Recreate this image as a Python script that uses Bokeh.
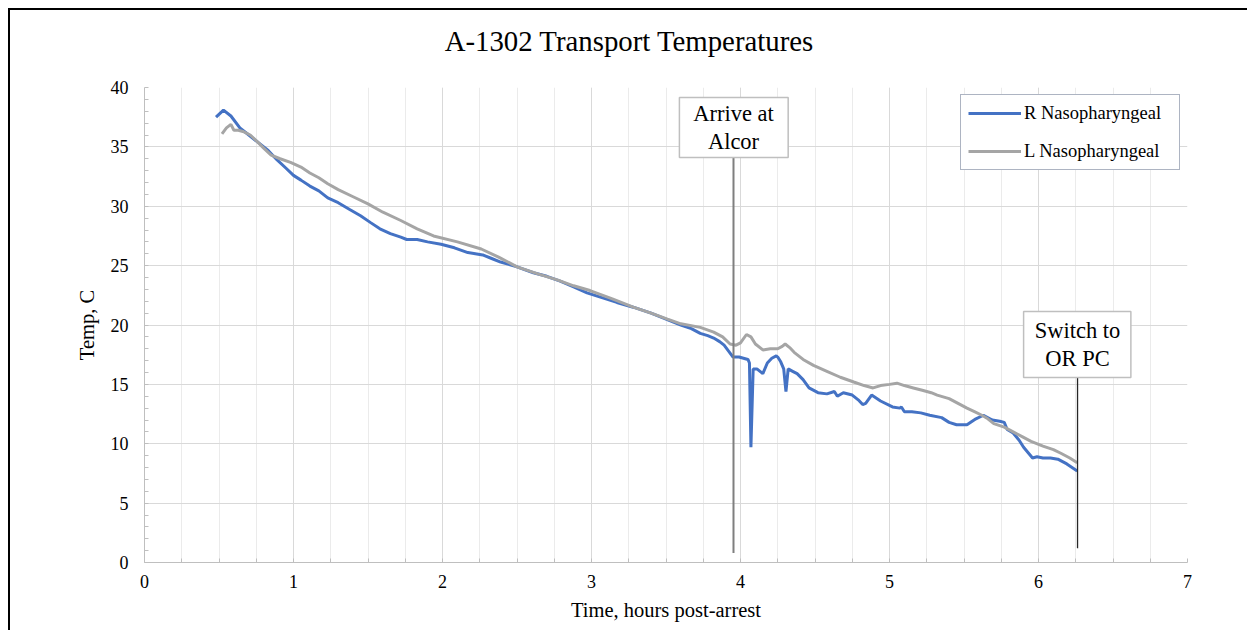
from bokeh.plotting import figure
from bokeh.models import SingleIntervalTicker, FixedTicker, Range1d, ColumnDataSource, LinearAxis
from bokeh.core.properties import value
from bokeh.embed import file_html
from bokeh.resources import INLINE

# ---- data ----
r_x = [0.48, 0.53, 0.58, 0.64, 0.70, 0.76, 0.83, 0.89, 0.95, 1.00, 1.05, 1.11, 1.17, 1.23, 1.30,
       1.38, 1.45, 1.52, 1.58, 1.65, 1.72, 1.76, 1.83, 1.90, 1.99, 2.08, 2.17, 2.27, 2.33, 2.39,
       2.50, 2.61, 2.70, 2.79, 2.88, 2.97, 3.07, 3.17, 3.28, 3.40, 3.50, 3.60, 3.67, 3.73, 3.78,
       3.82, 3.86, 3.89, 3.92, 3.95, 3.99, 4.02, 4.05, 4.06, 4.07, 4.085, 4.11, 4.15, 4.18, 4.21,
       4.24, 4.25, 4.27, 4.29, 4.305, 4.32, 4.35, 4.38, 4.42, 4.46, 4.52, 4.58, 4.63, 4.65, 4.69,
       4.75, 4.79, 4.82, 4.84, 4.88, 4.94, 5.02, 5.07, 5.08, 5.10, 5.15, 5.21, 5.27, 5.35, 5.40,
       5.45, 5.52, 5.58, 5.63, 5.69, 5.74, 5.77, 5.79, 5.83, 5.87, 5.90, 5.96, 5.99, 6.03, 6.08,
       6.13, 6.19, 6.26]
r_y = [37.5, 38.1, 37.6, 36.6, 36.0, 35.4, 34.7, 33.9, 33.2, 32.6, 32.2, 31.7, 31.3, 30.7, 30.3,
       29.7, 29.2, 28.6, 28.1, 27.7, 27.4, 27.2, 27.2, 27.0, 26.8, 26.5, 26.1, 25.9, 25.6, 25.3,
       24.9, 24.4, 24.1, 23.7, 23.2, 22.7, 22.3, 21.9, 21.5, 21.0, 20.5, 20.0, 19.7, 19.3, 19.1,
       18.9, 18.6, 18.3, 17.8, 17.3, 17.3, 17.2, 17.1, 16.8, 9.7, 16.3, 16.3, 15.9, 16.8, 17.2,
       17.4, 17.3, 16.9, 16.3, 14.4, 16.3, 16.1, 15.9, 15.4, 14.7, 14.3, 14.2, 14.4, 14.0, 14.3,
       14.1, 13.7, 13.3, 13.4, 14.1, 13.6, 13.1, 13.0, 13.1, 12.7, 12.7, 12.6, 12.4, 12.2, 11.8,
       11.6, 11.6, 12.1, 12.4, 12.0, 11.9, 11.8, 11.2, 10.9, 10.3, 9.7, 8.8, 8.9, 8.8, 8.8,
       8.7, 8.3, 7.7]

l_x = [0.52, 0.55, 0.58, 0.60, 0.63, 0.66, 0.71, 0.76, 0.80, 0.85, 0.91, 0.98, 1.05, 1.11, 1.17,
       1.23, 1.30, 1.40, 1.50, 1.60, 1.72, 1.83, 1.94, 2.10, 2.26, 2.38, 2.50, 2.64, 2.77, 2.88,
       2.99, 3.14, 3.28, 3.40, 3.51, 3.60, 3.73, 3.82, 3.88, 3.93, 3.97, 4.00, 4.04, 4.07, 4.10,
       4.15, 4.20, 4.25, 4.28, 4.30, 4.33, 4.36, 4.42, 4.49, 4.58, 4.67, 4.76, 4.83, 4.89, 4.94,
       5.00, 5.05, 5.10, 5.16, 5.22, 5.28, 5.32, 5.40, 5.46, 5.52, 5.57, 5.62, 5.66, 5.70, 5.77,
       5.83, 5.89, 5.95, 6.03, 6.10, 6.15, 6.21, 6.26]
l_y = [36.1, 36.6, 36.9, 36.4, 36.4, 36.3, 36.0, 35.4, 34.9, 34.3, 34.0, 33.7, 33.3, 32.8, 32.4,
       31.9, 31.4, 30.8, 30.2, 29.5, 28.8, 28.1, 27.5, 27.0, 26.4, 25.7, 24.9, 24.3, 23.8, 23.3,
       22.9, 22.2, 21.5, 21.0, 20.5, 20.1, 19.8, 19.4, 19.0, 18.4, 18.3, 18.5, 19.2, 19.0, 18.4,
       17.9, 18.0, 18.0, 18.2, 18.4, 18.1, 17.7, 17.1, 16.6, 16.1, 15.6, 15.2, 14.9, 14.7, 14.9,
       15.0, 15.1, 14.9, 14.7, 14.5, 14.3, 14.1, 13.8, 13.4, 13.0, 12.7, 12.4, 12.1, 11.7, 11.4,
       11.0, 10.6, 10.2, 9.8, 9.5, 9.2, 8.8, 8.4]

event_x = [3.953, 6.262]
event_bottom = [0.8, 1.2]
event_labels = ["Arrive at\nAlcor", "Switch to\nOR PC"]
box_left = [3.59, 5.90]
box_right = [4.32, 6.62]
box_top = [39.16, 21.14]
box_bottom = [34.10, 15.58]
line_colors = ["#7F7F7F", "#262626"]
line_widths = [2, 1.3]

TITLE = "A-1302 Transport Temperatures"
TITLE_X = 3.255
SERIF = "Liberation Serif"

p = figure(width=1239, height=622, output_backend="svg", toolbar_location=None,
           x_range=Range1d(0, 7), y_range=Range1d(0, 40),
           min_border_left=134, min_border_right=62, min_border_top=77, min_border_bottom=70)
p.styles = {"margin-left": "8px", "margin-top": "8px",
            "border-top": "2px solid #000000", "border-left": "2px solid #000000"}
p.outline_line_color = None
p.background_fill_color = "white"
p.border_fill_color = "white"

bottom_axis = p.below[0]
left_axis = p.left[0]

# chart title, drawn as the single label of an invisible top axis
title_axis = LinearAxis(ticker=FixedTicker(ticks=[TITLE_X], minor_ticks=[]),
                        major_label_overrides={TITLE_X: TITLE},
                        axis_line_color=None, major_tick_line_color=None,
                        minor_tick_line_color=None, major_label_standoff=25,
                        major_label_text_font=SERIF, major_label_text_font_size="28.8px",
                        major_label_text_color="#000000")
p.add_layout(title_axis, "above")

for ax in (bottom_axis, left_axis):
    ax.axis_line_color = "#BFBFBF"
    ax.major_tick_in = 0
    ax.major_tick_out = 0
    ax.minor_tick_out = 0
    ax.minor_tick_in = 4
    ax.minor_tick_line_color = "#BFBFBF"
    ax.major_label_text_font = SERIF
    ax.major_label_text_font_size = "18px"
    ax.major_label_text_color = "#000000"
    ax.axis_label_text_font = SERIF
    ax.axis_label_text_font_size = "20.5px"
    ax.axis_label_text_font_style = "normal"
    ax.axis_label_text_color = "#000000"

bottom_axis.ticker = SingleIntervalTicker(interval=1, num_minor_ticks=4)
left_axis.ticker = SingleIntervalTicker(interval=5, num_minor_ticks=5)
bottom_axis.major_label_standoff = 12
left_axis.major_label_standoff = 16
bottom_axis.axis_label = "Time, hours post-arrest"
left_axis.axis_label = "Temp, C"
bottom_axis.axis_label_standoff = 8
left_axis.axis_label_standoff = 10

p.xgrid.grid_line_color = "#D9D9D9"
p.xgrid.minor_grid_line_color = "#EBEBEB"
p.ygrid.grid_line_color = "#D9D9D9"

p.line(r_x, r_y, line_color="#4472C4", line_width=3, legend_label="R Nasopharyngeal")
p.line(l_x, l_y, line_color="#A5A5A5", line_width=3, legend_label="L Nasopharyngeal")

# event lines and callouts
for i in range(2):
    p.segment(x0=[event_x[i]], y0=[event_bottom[i]], x1=[event_x[i]], y1=[box_bottom[i]],
              line_color=line_colors[i], line_width=line_widths[i])
p.quad(left=box_left, right=box_right, top=box_top, bottom=box_bottom,
       fill_color="white", line_color="#BFBFBF", line_width=1.5)
lab_src = ColumnDataSource(dict(x=event_x,
                                y=[(t + b) / 2 for t, b in zip(box_top, box_bottom)],
                                text=event_labels))
p.text(x="x", y="y", text="text", source=lab_src, text_align="center", text_baseline="middle",
       text_font=value(SERIF), text_font_size="22.5px", text_color="#000000", text_line_height=1.15)

leg = p.legend[0]
leg.location = (816, 392)
leg.border_line_color = "#5B6A85"
leg.border_line_width = 1.5
leg.background_fill_alpha = 1
leg.label_text_font = SERIF
leg.label_text_font_size = "18.5px"
leg.label_text_color = "#000000"
leg.glyph_width = 53
leg.glyph_height = 22
leg.label_height = 22
leg.label_width = 148
leg.label_standoff = 3
leg.spacing = 16
leg.padding = 7
leg.margin = 0

open("out.html", "w").write(file_html(p, INLINE))
